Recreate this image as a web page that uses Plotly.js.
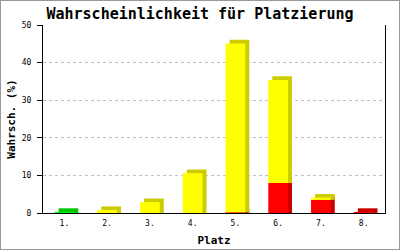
<!DOCTYPE html>
<html>
<head>
<meta charset="utf-8">
<script src="https://cdn.plot.ly/plotly-3.0.1.min.js"></script>
<style>
html,body{margin:0;padding:0;background:#fff;}
#chart{width:398px;height:248px;border:1px solid #999;}
</style>
</head>
<body>
<div id="chart"></div>
<script>
const categories = ['1.','2.','3.','4.','5.','6.','7.','8.'];
const redValues    = [0, 0, 0, 0, 0.2, 8.0, 3.5, 0.3];
const yellowValues = [0, 0.8, 2.9, 10.6, 44.9, 27.4, 0.6, 0];
const greenValues  = [0.3, 0, 0, 0, 0, 0, 0, 0];

const xs = categories.map((c, i) => i + 1);
const W = 0.46;      // bar width (category units)
const DX = 0.095;    // depth offset horizontally
const DY = 0.95;     // depth offset vertically (value units)

const series = [
  {vals: redValues, front: '#ff0000', side: '#cc0000'},
  {vals: yellowValues, front: '#ffff00', side: '#cccc00'},
  {vals: greenValues, front: '#00ee00', side: '#00c800'}
];

const traces = [];
const cum = xs.map(() => 0);
series.forEach(s => {
  const base = cum.slice();
  const hFront = s.vals.map(v => v > 0 ? v : null);
  const hSide = s.vals.map(v => v > 0 ? v + DY : null);
  traces.push({type: 'bar', x: xs, y: hSide, base: base, width: W, offset: -W / 2 + DX,
    marker: {color: s.side, line: {width: 0}}, hoverinfo: 'skip', showlegend: false});
  traces.push({type: 'bar', x: xs, y: hFront, base: base, width: W, offset: -W / 2,
    marker: {color: s.front, line: {width: 0}}, showlegend: false});
  s.vals.forEach((v, i) => cum[i] += v);
});

const layout = {
  width: 398, height: 248,
  margin: {l: 42, r: 14, t: 24, b: 36},
  barmode: 'overlay',
  paper_bgcolor: '#fff', plot_bgcolor: '#fff',
  font: {family: 'DejaVu Sans Mono, monospace', color: '#000', size: 8},
  title: {text: '<b>Wahrscheinlichkeit für Platzierung</b>', x: 0.5, xanchor: 'center',
    y: 0.948, yanchor: 'middle', yref: 'container',
    font: {family: 'DejaVu Sans Mono, monospace', size: 15, color: '#000'}},
  xaxis: {range: [0.5, 8.5], tickvals: xs, ticktext: categories, ticks: '',
    showline: true, linecolor: '#000', linewidth: 1, showgrid: false, zeroline: false,
    tickfont: {size: 8}, ticklabelstandoff: 2, fixedrange: true,
    title: {text: '<b>Platz</b>', standoff: 9, font: {size: 11}}},
  yaxis: {range: [0, 50], dtick: 10, ticks: 'outside', ticklen: 5, tickcolor: '#000',
    showline: true, mirror: true, linecolor: '#000', linewidth: 1,
    showgrid: true, gridcolor: '#c0c0c0', griddash: 'dot', gridwidth: 1, zeroline: false,
    tickfont: {size: 8}, ticklabelstandoff: 4, fixedrange: true,
    title: {text: '<b>Wahrsch. (%)</b>', standoff: 3, font: {size: 11}}}
};

Plotly.newPlot('chart', traces, layout, {displayModeBar: false, staticPlot: true});
</script>
</body>
</html>
